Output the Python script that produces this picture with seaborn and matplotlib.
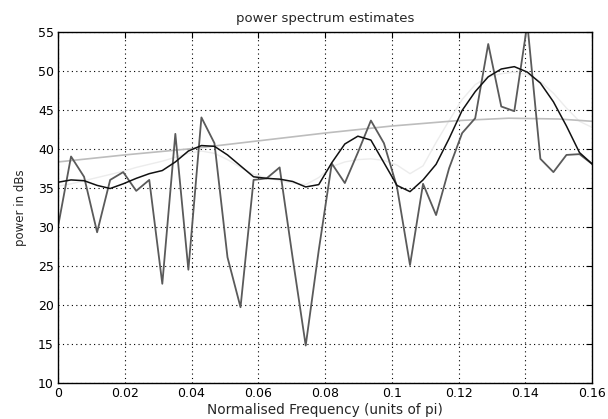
import numpy as np
import pandas as pd
import seaborn as sns
import matplotlib
matplotlib.use("Agg")
import matplotlib.pyplot as plt

# frequency grid (units of pi), spacing 2/512
freq = np.arange(42) / 256.0

# raw periodogram (jagged)
periodogram = [30.0, 39.0, 36.4, 29.3, 36.0, 37.0, 34.6, 36.0, 22.7, 41.9,
               24.5, 44.0, 40.7, 26.1, 19.7, 36.0, 36.2, 37.6, 26.0, 14.8,
               27.0, 38.1, 35.6, 39.5, 43.6, 40.7, 35.1, 25.1, 35.5, 31.5,
               37.5, 42.0, 43.9, 53.4, 45.4, 44.8, 56.0, 38.7, 37.0, 39.2,
               39.3, 38.0]

# smoothed estimate (black)
smoothed = [35.7, 36.0, 35.9, 35.3, 34.9, 35.5, 36.2, 36.8, 37.2, 38.3,
            39.7, 40.4, 40.3, 39.2, 37.8, 36.4, 36.2, 36.1, 35.8, 35.1,
            35.4, 38.2, 40.6, 41.6, 41.1, 38.2, 35.3, 34.5, 36.0, 38.0,
            41.3, 44.9, 47.3, 49.2, 50.2, 50.5, 49.8, 48.4, 46.0, 42.9,
            39.5, 38.0]

# faint estimate (very light grey)
faint = [35.2, 35.5, 35.9, 36.3, 36.7, 37.1, 37.6, 38.0, 38.4, 38.9,
         39.4, 39.7, 39.4, 38.6, 37.6, 36.7, 36.3, 35.9, 35.6, 35.4,
         36.3, 37.7, 38.3, 38.6, 38.7, 38.5, 37.9, 36.8, 37.8, 40.8,
         43.6, 46.3, 48.2, 49.2, 49.6, 49.8, 49.5, 48.6, 47.1, 45.2,
         43.5, 42.7]

# broad estimate (light grey, almost straight)
broad_freq = [0.0, 0.02, 0.04, 0.06, 0.08, 0.10, 0.12, 0.135, 0.15, 0.1602]
broad = [38.3, 39.2, 40.0, 41.0, 42.0, 42.9, 43.6, 43.9, 43.8, 43.5]

sns.set_style("white")
plt.rcParams['font.family'] = ['DejaVu Sans']

fig = plt.figure(figsize=(6.08, 4.19), dpi=100)
ax = fig.add_axes([0.0954, 0.0859, 0.8783, 0.8389])

sns.lineplot(x=freq, y=faint, ax=ax, color='#ececec', lw=1.0)
sns.lineplot(x=broad_freq, y=broad, ax=ax, color='#bdbdbd', lw=1.2)
sns.lineplot(x=freq, y=periodogram, ax=ax, color='#5a5a5a', lw=1.3)
sns.lineplot(x=freq, y=smoothed, ax=ax, color='#111111', lw=1.1)

ax.set_xlim(0, 0.16)
ax.set_ylim(10, 55)
ax.set_xticks(np.arange(0, 0.161, 0.02))
ax.set_xticklabels(['0', '0.02', '0.04', '0.06', '0.08', '0.1', '0.12', '0.14', '0.16'])
ax.set_yticks(np.arange(10, 56, 5))

ax.grid(True, color='black', linestyle=(0, (1, 3)), linewidth=0.8)
for s in ax.spines.values():
    s.set_color('black')
    s.set_linewidth(1.0)
ax.tick_params(direction='in', length=4, width=0.8, labelsize=9, colors='black',
               top=True, right=True, pad=3)

ax.set_title('power spectrum estimates', fontsize=9.5, pad=7)
ax.set_xlabel('Normalised Frequency (units of pi)', fontsize=9.8, labelpad=2)
ax.set_ylabel('power in dBs', fontsize=8.5, labelpad=8)

fig.savefig('out.png', dpi=100)
